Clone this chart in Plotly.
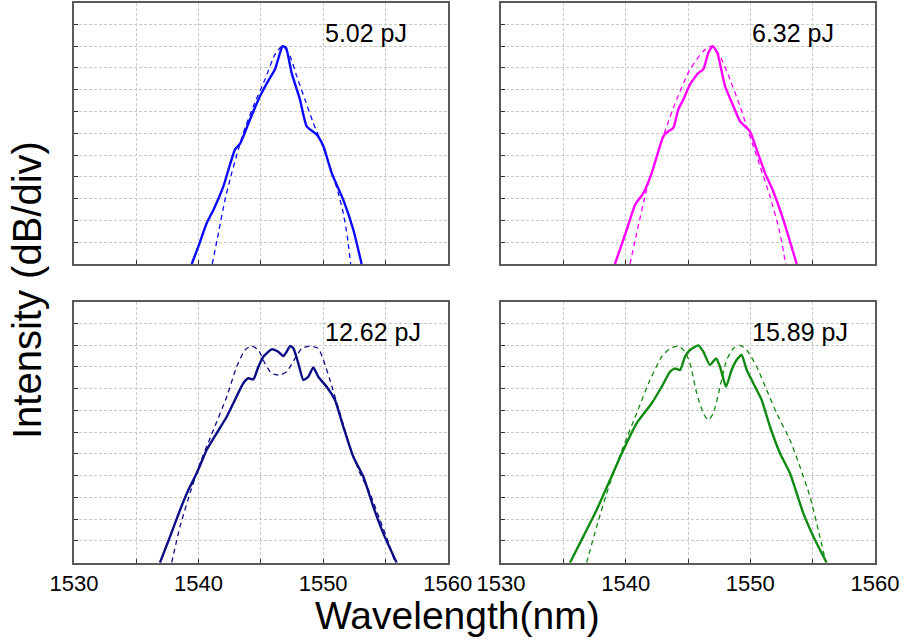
import plotly.graph_objects as go

W, H = 904, 641

# ---------------- data (wavelength in nm, intensity in dB/div units) -------------
labels = ["5.02 pJ", "6.32 pJ", "12.62 pJ", "15.89 pJ"]
colors = ["#0a0aff", "#ff00ff", "#0c0c85", "#118a11"]

wl_a_meas = [1539.45, 1539.98, 1540.65, 1541.19, 1541.99, 1542.92, 1543.33, 1543.6, 1544.13, 1544.93,
             1545.73, 1546.13, 1546.54, 1546.75, 1547.02, 1547.47, 1548.14, 1548.68, 1549.48, 1550.02,
             1550.69, 1551.62, 1552.43, 1553.09]
iv_a_meas = [0, 0.8, 1.87, 2.48, 3.56, 5.25, 5.52, 5.86, 6.63, 7.70,
             8.54, 8.93, 9.69, 10.0, 9.92, 8.77, 7.55, 6.32, 5.94, 5.40,
             4.17, 2.94, 1.56, 0]
wl_a_sim = [1541.1, 1541.59, 1542.12, 1542.66, 1543.19, 1543.59, 1544.4, 1545.33, 1546.14, 1546.75,
            1547.34, 1547.88, 1548.54, 1549.21, 1549.88, 1550.55, 1551.22, 1551.62, 1551.94, 1552.21]
iv_a_sim = [0, 1.41, 2.94, 4.17, 5.25, 6.01, 7.24, 8.47, 9.62, 10.0,
            9.54, 8.62, 7.55, 6.47, 5.55, 4.48, 3.25, 2.33, 1.26, 0]

wl_b_meas = [1539.14, 1540.08, 1540.75, 1541.42, 1542.09, 1543.02, 1543.42, 1543.82, 1544.22, 1544.63,
             1545.16, 1545.83, 1546.23, 1546.63, 1546.98, 1547.35, 1547.97, 1548.64, 1549.17, 1549.97,
             1550.51, 1551.18, 1551.84, 1552.65, 1553.72]
iv_b_meas = [0, 1.56, 2.71, 3.25, 4.17, 5.86, 6.09, 6.24, 7.09, 7.55,
             8.24, 8.77, 8.93, 9.69, 10.0, 9.69, 8.16, 7.24, 6.55, 6.09,
             5.25, 4.17, 3.33, 2.02, 0]
wl_b_sim = [1540.35, 1540.88, 1541.68, 1542.49, 1543.29, 1544.09, 1545.16, 1546.23, 1546.9, 1547.57,
            1548.37, 1549.17, 1549.97, 1550.78, 1551.58, 1552.38, 1552.78, 1552.86]
iv_b_sim = [0, 1.41, 3.40, 4.94, 6.32, 7.55, 8.93, 9.77, 10.0, 9.54,
            8.47, 7.24, 5.86, 4.48, 3.10, 1.41, 0.18, 0]

wl_c_meas = [1536.9, 1537.71, 1538.51, 1539.18, 1539.85, 1540.65, 1541.45, 1542.26, 1542.79, 1543.59,
             1544.0, 1544.4, 1544.8, 1545.2, 1545.87, 1546.4, 1546.8, 1547.07, 1547.34, 1547.61,
             1548.01, 1548.41, 1548.81, 1549.21, 1549.61, 1550.28, 1550.95, 1551.62, 1552.42, 1553.23,
             1554.03, 1554.83, 1555.9]
iv_c_meas = [0, 1.2, 2.42, 3.34, 4.11, 5.18, 5.95, 6.71, 7.33, 8.25,
             8.48, 8.43, 9.01, 9.47, 9.81, 9.70, 9.50, 9.70, 9.96, 9.86,
             9.16, 8.40, 8.55, 8.98, 8.55, 8.09, 7.48, 6.25, 4.87, 3.95,
             2.57, 1.35, 0]
wl_c_sim = [1537.84, 1538.51, 1539.31, 1540.12, 1541.19, 1542.26, 1543.06, 1543.73, 1544.26, 1544.8,
            1545.33, 1545.87, 1546.54, 1547.07, 1547.74, 1548.28, 1548.95, 1549.61, 1550.02, 1550.55,
            1551.35, 1552.16, 1552.96, 1553.76, 1554.57, 1555.37, 1555.77]
iv_c_sim = [0, 1.66, 3.19, 4.57, 6.10, 7.63, 9.01, 9.78, 9.96, 9.78,
            9.16, 8.70, 8.63, 8.78, 9.39, 9.85, 9.96, 9.85, 9.32, 8.40,
            6.87, 5.33, 4.11, 3.19, 1.96, 0.74, 0]

wl_d_meas = [1535.53, 1536.6, 1537.67, 1538.74, 1539.81, 1540.88, 1542.09, 1542.89, 1543.56, 1543.96,
             1544.36, 1544.76, 1545.16, 1545.83, 1546.23, 1546.76, 1547.25, 1547.57, 1548.05, 1548.5,
             1548.9, 1549.3, 1549.71, 1550.24, 1550.91, 1551.58, 1552.38, 1553.18, 1554.25, 1555.32,
             1556.12]
iv_d_meas = [0, 1.2, 2.42, 3.80, 5.18, 6.41, 7.33, 8.09, 8.78, 8.93,
             8.86, 9.47, 9.78, 9.99, 9.70, 9.09, 9.39, 9.01, 8.09, 8.86,
             9.32, 9.55, 8.86, 8.25, 7.48, 6.25, 5.03, 4.11, 2.27, 0.89,
             0]
wl_d_sim = [1536.87, 1537.67, 1538.74, 1539.81, 1540.88, 1541.95, 1542.89, 1543.56, 1544.22, 1544.76,
            1545.16, 1545.7, 1546.23, 1546.63, 1547.03, 1547.57, 1548.1, 1548.64, 1549.17, 1549.71,
            1550.51, 1551.31, 1552.11, 1553.18, 1553.98, 1554.79, 1555.45, 1556.07]
iv_d_sim = [0, 1.66, 3.65, 5.33, 6.87, 8.40, 9.47, 9.85, 9.96, 9.70,
            9.16, 7.79, 6.87, 6.56, 6.87, 8.09, 9.32, 9.85, 9.99, 9.78,
            9.01, 7.94, 6.87, 5.64, 4.41, 3.03, 1.50, 0]

x_tick_vals = [1530, 1535, 1540, 1545, 1550, 1555, 1560]
x_tick_text = ["1530", "", "1540", "", "1550", "", "1560"]
y_tick_vals = list(range(0, 13))
label_x = 1550
label_y = 10.6

panels = [
    (wl_a_meas, iv_a_meas, wl_a_sim, iv_a_sim),
    (wl_b_meas, iv_b_meas, wl_b_sim, iv_b_sim),
    (wl_c_meas, iv_c_meas, wl_c_sim, iv_c_sim),
    (wl_d_meas, iv_d_meas, wl_d_sim, iv_d_sim),
]

# ---------------- layout geometry ---------------
xdoms = [[74 / W, 447.7 / W], [501 / W, 875 / W]]
ydoms = [[(H - 264) / H, (H - 2.5) / H], [(H - 562.7) / H, (H - 301.7) / H]]

fig = go.Figure()
FONT = "Arial, Liberation Sans, sans-serif"

for i, (xm, ym, xs, ys) in enumerate(panels):
    row, col = i // 2, i % 2
    xa = "x" if i == 0 else f"x{i+1}"
    ya = "y" if i == 0 else f"y{i+1}"
    fig.add_trace(go.Scatter(x=xs, y=ys, mode="lines", xaxis=xa, yaxis=ya,
                             line=dict(color=colors[i], width=1.3, dash="5px,4px", shape="spline", smoothing=0.6),
                             showlegend=False, hoverinfo="skip"))
    fig.add_trace(go.Scatter(x=xm, y=ym, mode="lines", xaxis=xa, yaxis=ya,
                             line=dict(color=colors[i], width=2.4, shape="spline", smoothing=0.5),
                             showlegend=False, hoverinfo="skip"))
    xkey = "xaxis" if i == 0 else f"xaxis{i+1}"
    ykey = "yaxis" if i == 0 else f"yaxis{i+1}"
    fig.layout[xkey] = dict(
        domain=xdoms[col], anchor=ya, range=[1530, 1560], automargin=False,
        tickmode="array", tickvals=x_tick_vals, ticktext=x_tick_text,
        showticklabels=(row == 1), ticks="inside", ticklen=4, tickcolor="#333",
        tickfont=dict(family=FONT, size=22, color="#000"),
        showgrid=True, gridcolor="#c8c8c8", gridwidth=1, griddash="3px,2px",
        showline=True, linecolor="#5a5a5a", linewidth=1.5, mirror=True, zeroline=False,
    )
    fig.layout[ykey] = dict(
        domain=ydoms[row], anchor=xa, range=[0, 12], automargin=False,
        tickmode="array", tickvals=y_tick_vals, showticklabels=False,
        ticks="inside", ticklen=4, tickcolor="#333",
        showgrid=True, gridcolor="#c8c8c8", gridwidth=1, griddash="3px,2px",
        showline=True, linecolor="#5a5a5a", linewidth=1.5, mirror=True, zeroline=False,
    )
    fig.add_annotation(x=label_x, y=label_y, xref=xa, yref=ya, text=labels[i],
                       showarrow=False, xanchor="left", yanchor="middle",
                       font=dict(family=FONT, size=25, color="#000"))

fig.add_annotation(x=458 / W, y=(H - 615) / H, xref="paper", yref="paper",
                   text="Wavelength(nm)", showarrow=False, xanchor="center", yanchor="middle",
                   font=dict(family=FONT, size=39, color="#000"))
fig.add_annotation(x=27 / W, y=(H - 290) / H, xref="paper", yref="paper",
                   text="Intensity (dB/div)", showarrow=False, textangle=-90,
                   xanchor="center", yanchor="middle",
                   font=dict(family=FONT, size=40, color="#000"))

fig.update_layout(width=W, height=H, margin=dict(l=0, r=0, t=0, b=0, autoexpand=False),
                  paper_bgcolor="white", plot_bgcolor="white")

fig.write_html("out.html")
